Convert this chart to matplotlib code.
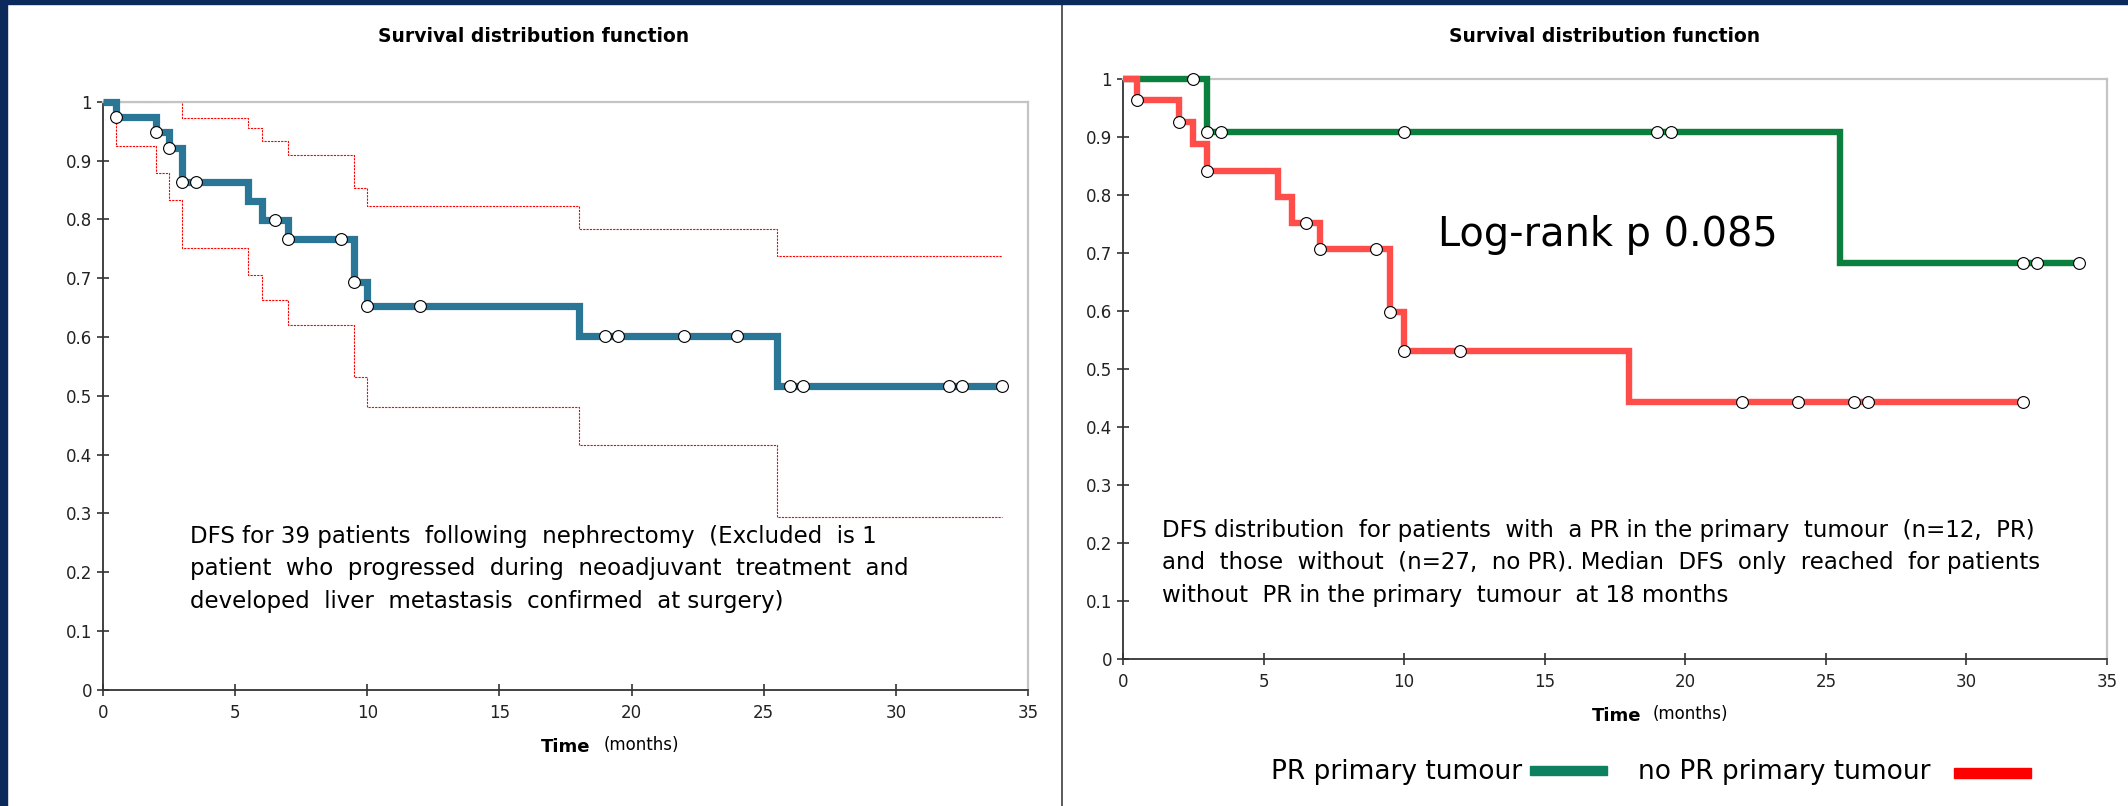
import numpy as np
from matplotlib import pyplot as plt
from matplotlib.patches import Rectangle
from matplotlib.lines import Line2D

# figure size in pixels
W = 2128
H = 806

# Left panel: all 39 patients, step times and survival values
all_t = [0, 0.5, 2, 2.5, 3, 5.5, 6, 7, 9.5, 10, 18, 25.5, 34]
all_s = [1, 0.974, 0.948, 0.921, 0.863, 0.831, 0.799, 0.766, 0.694, 0.652, 0.602, 0.516, 0.516]
all_cens = [0.5, 2, 2.5, 3, 3.5, 6.5, 7, 9, 9.5, 10, 12, 19, 19.5, 22, 24, 26, 26.5, 32, 32.5, 34]
#confidence band
up_t = [0, 3, 5.5, 6, 7, 9.5, 10, 18, 25.5, 34]
up_s = [1, 0.973, 0.955, 0.933, 0.909, 0.854, 0.823, 0.784, 0.738, 0.738]
lo_t = [0, 0.5, 2, 2.5, 3, 5.5, 6, 7, 9.5, 10, 18, 25.5, 34]
lo_s = [1, 0.925, 0.878, 0.833, 0.751, 0.705, 0.663, 0.621, 0.531, 0.480, 0.417, 0.293, 0.293]

# Right panel: PR vs no PR
pr_t = [0, 3, 25.5, 34]
pr_s = [1, 0.909, 0.682, 0.682]
pr_cens = [2.5, 3, 3.5, 10, 19, 19.5, 32, 32.5, 34]
nopr_t = [0, 0.5, 2, 2.5, 3, 5.5, 6, 7, 9.5, 10, 18, 32]
nopr_s = [1, 0.963, 0.926, 0.888, 0.842, 0.797, 0.752, 0.707, 0.598, 0.531, 0.443, 0.443]
nopr_cens = [0.5, 2, 3, 6.5, 7, 9, 9.5, 10, 12, 22, 24, 26, 26.5, 32]

xticks = [0, 5, 10, 15, 20, 25, 30, 35]
yticks = [0, 0.1, 0.2, 0.3, 0.4, 0.5, 0.6, 0.7, 0.8, 0.9, 1]
ytick_labels = ['0', '0.1', '0.2', '0.3', '0.4', '0.5', '0.6', '0.7', '0.8', '0.9', '1']

title = "Survival distribution function"
left_note = ["DFS for 39 patients  following  nephrectomy  (Excluded  is 1",
             "patient  who  progressed  during  neoadjuvant  treatment  and",
             "developed  liver  metastasis  confirmed  at surgery)"]
right_note = ["DFS distribution  for patients  with  a PR in the primary  tumour  (n=12,  PR)",
              "and  those  without  (n=27,  no PR). Median  DFS  only  reached  for patients",
              "without  PR in the primary  tumour  at 18 months"]
logrank = "Log-rank p 0.085"
legend_labels = ["PR primary tumour", "no PR primary tumour"]

BLUE = '#2a7697'
GREEN = '#0b7f3d'
RED = '#ff4d4a'
NAVY = '#0b2a5b'


def fx(x):
    return x / W


def fy(y):
    return 1 - y / H


def surv_at(t, s, c):
    #value of the step curve at the censoring times
    idx = np.searchsorted(t, c, side='right') - 1
    return np.array(s)[idx]


def setup_axes(ax):
    ax.set_xlim(0, 35)
    ax.set_ylim(0, 1)
    ax.set_xticks(xticks)
    ax.set_yticks(yticks)
    ax.set_yticklabels(ytick_labels)
    ax.tick_params(direction='inout', length=9, width=1.1, labelsize=12, colors='#222222')
    ax.tick_params(axis='x', pad=6)
    for sp in ['left', 'bottom']:
        ax.spines[sp].set_color('#333333')
        ax.spines[sp].set_linewidth(1.3)
    for sp in ['top', 'right']:
        ax.spines[sp].set_color('#c4c4c4')
        ax.spines[sp].set_linewidth(1.6)


def draw_curve(ax, t, s, cens, color, lw):
    ax.step(t, s, where='post', color=color, lw=lw, clip_on=False, zorder=3,
            solid_joinstyle='miter', solid_capstyle='butt')
    ax.plot(cens, surv_at(t, s, cens), 'o', ms=8.5, mfc='white', mec='black',
            mew=0.8, clip_on=False, zorder=4)


fig = plt.figure(figsize=(W / 100, H / 100), dpi=100)

# navy frame on top and left, separator between panels
fig.patches.append(Rectangle((0, fy(4)), 1, 4 / H, transform=fig.transFigure, color=NAVY, zorder=10))
fig.patches.append(Rectangle((0, 0), fx(7), 1, transform=fig.transFigure, color=NAVY, zorder=10))
fig.add_artist(Line2D([fx(1062), fx(1062)], [0, 1], color='#404040', lw=1.2))

# PART (I) left panel
ax1 = fig.add_axes([fx(103), fy(689.7), (1028 - 103) / W, 588 / H])
setup_axes(ax1)
ax1.step(up_t, up_s, where='post', color='red', lw=0.8, ls=(0, (2, 1)), zorder=2)
ax1.step(lo_t, lo_s, where='post', color='red', lw=0.8, ls=(0, (2, 1)), zorder=2)
draw_curve(ax1, all_t, all_s, all_cens, BLUE, 5.2)

fig.text(fx(534), fy(37), title, ha='center', va='center', fontsize=13.5, fontweight='bold')
for i, line in enumerate(left_note):
    fig.text(fx(190), fy(543 + 32.5 * i), line, ha='left', va='baseline', fontsize=16.5)
fig.text(fx(590), fy(752), "Time", ha='right', va='baseline', fontsize=13, fontweight='bold')
fig.text(fx(604), fy(750), "(months)", ha='left', va='baseline', fontsize=12)

# PART (II) right panel
ax2 = fig.add_axes([fx(1123), fy(658.7), (2107 - 1123) / W, 579.7 / H])
setup_axes(ax2)
draw_curve(ax2, pr_t, pr_s, pr_cens, GREEN, 4.6)
draw_curve(ax2, nopr_t, nopr_s, nopr_cens, RED, 4.6)

fig.text(fx(1605), fy(37), title, ha='center', va='center', fontsize=13.5, fontweight='bold')
fig.text(fx(1438), fy(235), logrank, ha='left', va='center', fontsize=28.7)
for i, line in enumerate(right_note):
    fig.text(fx(1162), fy(537 + 32.5 * i), line, ha='left', va='baseline', fontsize=16.5)
fig.text(fx(1641), fy(721), "Time", ha='right', va='baseline', fontsize=13, fontweight='bold')
fig.text(fx(1653), fy(719), "(months)", ha='left', va='baseline', fontsize=12)

# hand made legend
fig.text(fx(1522), fy(779), legend_labels[0], ha='right', va='baseline', fontsize=19)
fig.patches.append(Rectangle((fx(1530), fy(775)), 77 / W, 9 / H, transform=fig.transFigure, color='#0c8060'))
fig.text(fx(1931), fy(779), legend_labels[1], ha='right', va='baseline', fontsize=19)
fig.patches.append(Rectangle((fx(1954), fy(778)), 77 / W, 10 / H, transform=fig.transFigure, color='#ff0000'))

fig.savefig('out.png', dpi=100, facecolor='white')
